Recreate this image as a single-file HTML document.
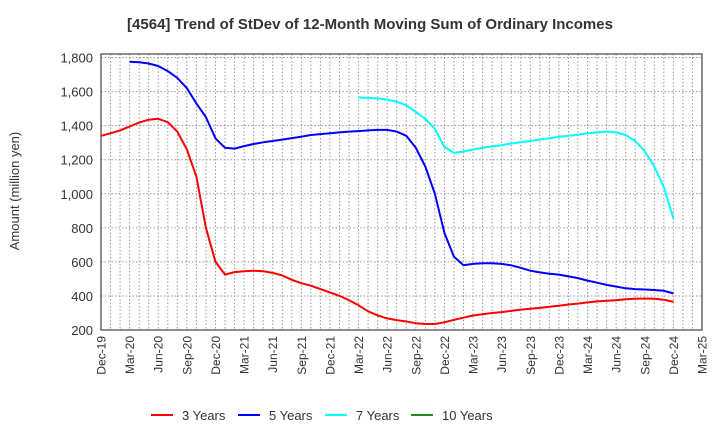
<!DOCTYPE html>
<html><head><meta charset="utf-8"><style>
body{margin:0;background:#fff;font-family:"Liberation Sans",Arial,sans-serif}
</style></head><body>
<svg width="720" height="440" xmlns="http://www.w3.org/2000/svg" font-family="Liberation Sans, Arial, sans-serif">
<text x="370" y="29" text-anchor="middle" font-size="15" font-weight="bold" fill="#333">[4564]  Trend of StDev of 12-Month Moving Sum of Ordinary Incomes</text>
<text transform="translate(19,191) rotate(-90)" text-anchor="middle" font-size="13" fill="#333">Amount (million yen)</text>
<g id="grid"></g>
<g id="axes"></g>
<g id="series"></g>
<g id="legend"></g>
</svg>
<script>
const xLabels=["Dec-19","Mar-20","Jun-20","Sep-20","Dec-20","Mar-21","Jun-21","Sep-21","Dec-21","Mar-22","Jun-22","Sep-22","Dec-22","Mar-23","Jun-23","Sep-23","Dec-23","Mar-24","Jun-24","Sep-24","Dec-24","Mar-25"];
const yTicks=[200,400,600,800,1000,1200,1400,1600,1800];
const seriesNames=["3 Years","5 Years","7 Years","10 Years"];
const seriesColors=["#ff0000","#0000ff","#00ffff","#228b22"];
// monthly values, index 0 = Dec-19
const s3=[1340,1355,1372,1395,1418,1435,1440,1420,1365,1260,1100,800,600,525,540,545,548,545,535,520,495,475,460,440,420,400,375,345,310,285,268,258,250,240,235,235,245,260,272,285,292,300,305,312,320,325,330,337,342,350,355,362,368,372,375,380,384,385,383,378,365];
const s5=[null,null,null,1775,1772,1765,1750,1720,1680,1620,1530,1450,1325,1270,1265,1280,1292,1302,1310,1318,1327,1335,1345,1350,1355,1360,1365,1368,1372,1375,1375,1365,1340,1270,1160,1000,770,630,580,588,592,592,588,580,565,548,538,530,525,515,505,490,478,465,455,445,440,438,435,430,415];
const s7=[null,null,null,null,null,null,null,null,null,null,null,null,null,null,null,null,null,null,null,null,null,null,null,null,null,null,null,1565,1563,1560,1553,1540,1520,1480,1440,1380,1275,1240,1248,1260,1270,1278,1285,1295,1302,1310,1318,1326,1335,1340,1347,1355,1360,1365,1360,1345,1310,1250,1160,1040,855];
const s10=[];
const allSeries=[s3,s5,s7,s10];

const X0=101,X1=702,Y0=330,NM=63;
function xs(i){return X0+(X1-X0)*i/NM;}
function ys(v){return Y0-(v-200)*(Y0-57.5)/1600;}
const NS="http://www.w3.org/2000/svg";
function mk(tag,attrs,parent){const e=document.createElementNS(NS,tag);for(const k in attrs)e.setAttribute(k,attrs[k]);parent.appendChild(e);return e;}
const grid=document.getElementById('grid'),axes=document.getElementById('axes'),ser=document.getElementById('series'),leg=document.getElementById('legend');
for(let m=1;m<NM;m++){const l=mk('line',{x1:xs(m),x2:xs(m),y1:54,y2:Y0,stroke:'#999','stroke-dasharray':'1.5,2','stroke-width':1},grid);

}
yTicks.forEach(v=>{const y=ys(v);
const l=mk('line',{x1:X0,x2:X1,y1:y,y2:y,stroke:'#999','stroke-dasharray':'1.5,2','stroke-width':1},grid);


const t=mk('text',{x:93,y:y+5,'text-anchor':'end','font-size':13,fill:'#333'},axes);t.textContent=v.toLocaleString('en-US');

});
const fr=mk('rect',{x:X0,y:54,width:X1-X0,height:Y0-54,fill:'none',stroke:'#444','stroke-width':1.2},axes);


xLabels.forEach((lab,i)=>{const x=xs(i*3);
const t=mk('text',{transform:`translate(${x+4.5},336) rotate(-90)`,'text-anchor':'end','font-size':12,fill:'#333'},axes);t.textContent=lab;

});
allSeries.forEach((s,k)=>{let d='';let pen=false;s.forEach((v,i)=>{if(v==null){pen=false;return;}d+=(pen?'L':'M')+xs(i).toFixed(1)+','+ys(v).toFixed(1);pen=true;});
if(d){const p=mk('path',{d:d,fill:'none',stroke:seriesColors[k],'stroke-width':2,'stroke-linejoin':'round'},ser);

}});
const lx=[151,238,325,411];
seriesNames.forEach((n,k)=>{const g=mk('g',{},leg);


mk('line',{x1:lx[k],x2:lx[k]+22,y1:415,y2:415,stroke:seriesColors[k],'stroke-width':2},g);
const t=mk('text',{x:lx[k]+31,y:420,'font-size':13,fill:'#333'},g);t.textContent=n;});
</script>
</body></html>
